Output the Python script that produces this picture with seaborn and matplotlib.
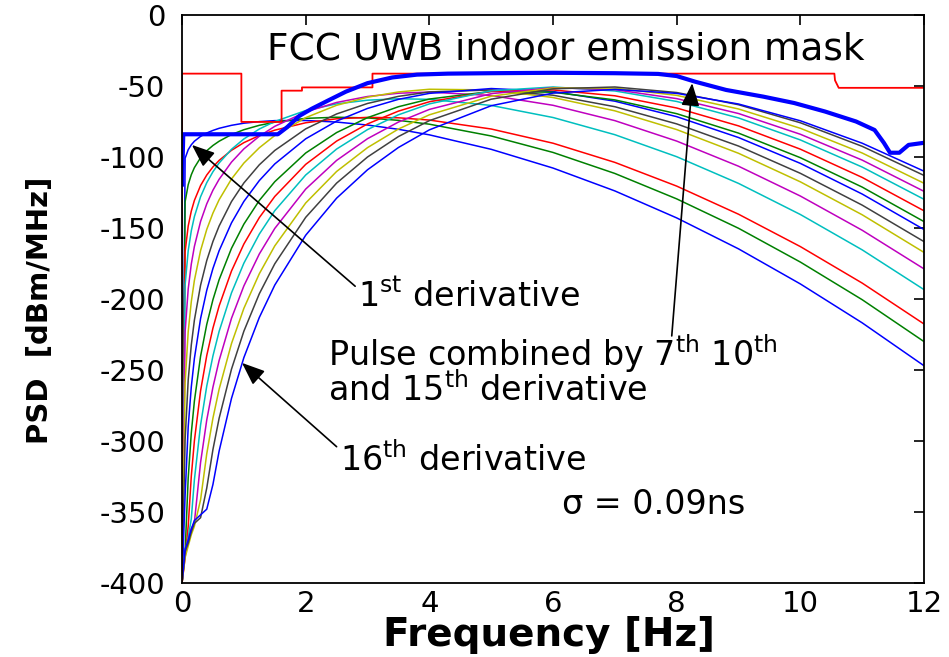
import matplotlib
matplotlib.use("Agg")
import matplotlib.pyplot as plt
import numpy as np
import pandas as pd
import seaborn as sns

# ---------------- data ----------------
FREQ = [0.0, 0.05, 0.1, 0.15, 0.2, 0.3, 0.4, 0.5, 0.6, 0.8, 1.0, 1.25, 1.5,
        2, 2.5, 3, 3.5, 4, 5, 6, 7, 8, 9, 10, 11, 12]

D1 = [-400, -100.9, -94.9, -91.4, -88.9, -85.5, -83.1, -81.3, -79.8, -77.7, -76.2, -75.1, -74.4,
      -74.3, -75.4, -77.5, -80.5, -84.4, -94.6, -107.8, -123.9, -142.9, -164.7, -189.4, -216.8, -247.0]
D2 = [-400, -131.5, -119.5, -112.5, -107.5, -100.5, -95.6, -91.9, -88.9, -84.2, -80.8, -77.7, -75.5,
      -72.8, -72.0, -72.5, -74.2, -76.9, -85.2, -96.8, -111.6, -129.5, -150.2, -174.0, -200.5, -230.0]
D3 = [-400, -166.7, -148.6, -138.1, -130.6, -120.1, -112.7, -107.0, -102.4, -95.3, -89.9, -84.9, -81.1,
      -75.9, -73.1, -72.1, -72.4, -74.0, -80.3, -90.3, -103.8, -120.5, -140.3, -163.1, -188.8, -217.6]
D4 = [-400, -190.1, -166.0, -152.0, -142.0, -128.0, -118.1, -110.4, -104.2, -94.6, -87.3, -80.3, -75.0,
      -67.3, -62.6, -60.0, -59.0, -59.4, -63.7, -72.2, -84.3, -99.8, -118.6, -140.5, -165.4, -193.4]
D5 = [-400, -223.1, -193.0, -175.4, -163.0, -145.4, -133.0, -123.4, -115.7, -103.6, -94.3, -85.4, -78.4,
      -68.3, -61.6, -57.4, -55.1, -54.3, -56.7, -63.6, -74.4, -88.8, -106.5, -127.5, -151.6, -178.8]
D6 = [-400, -259.1, -223.0, -201.9, -186.9, -165.9, -151.0, -139.5, -130.1, -115.5, -104.3, -93.5, -84.9,
      -72.3, -63.6, -57.9, -54.2, -52.3, -52.8, -58.1, -67.5, -80.7, -97.4, -117.5, -140.7, -167.2]
D7 = [-400, -299.1, -257.0, -232.4, -214.9, -190.3, -172.9, -159.5, -148.6, -131.4, -118.3, -105.5, -95.4,
      -80.2, -69.7, -62.3, -57.3, -54.2, -52.8, -56.5, -64.6, -76.7, -92.3, -111.5, -133.9, -159.6]
D8 = [-400, -338.2, -290.0, -261.9, -241.9, -213.8, -193.9, -178.5, -166.0, -146.4, -131.3, -116.6, -104.9,
      -87.2, -74.7, -65.8, -59.4, -55.2, -51.8, -53.9, -60.7, -71.6, -86.3, -104.5, -126.1, -151.1]
D9 = [-400, -378.0, -326.0, -294.4, -271.9, -240.3, -217.9, -200.5, -186.4, -164.3, -147.3, -130.6, -117.4,
      -97.2, -82.8, -72.3, -64.6, -59.2, -53.8, -54.4, -59.8, -69.5, -83.2, -100.5, -121.2, -145.5]
D10 = [-400, -382.0, -360.0, -324.8, -299.9, -264.7, -239.8, -220.5, -204.9, -180.3, -161.3, -142.7, -127.8,
       -105.2, -88.8, -76.7, -67.7, -61.1, -53.8, -52.8, -56.9, -65.5, -78.1, -94.5, -114.4, -137.9]
D11 = [-400, -378.0, -368.0, -354.8, -327.3, -288.7, -261.3, -240.1, -222.8, -195.7, -174.8, -154.3, -137.8,
       -112.7, -94.4, -80.7, -70.3, -62.6, -53.4, -50.7, -53.5, -60.9, -72.5, -88.0, -107.1, -129.8]
D12 = [-400, -380.0, -370.0, -362.0, -357.3, -315.1, -285.2, -262.1, -243.3, -213.6, -190.8, -168.3, -150.3,
       -122.6, -102.4, -87.1, -75.4, -66.5, -55.4, -51.2, -52.6, -58.9, -69.4, -84.0, -102.2, -124.2]
D13 = [-400, -382.0, -374.0, -366.0, -360.0, -341.4, -309.0, -283.9, -263.5, -231.4, -206.6, -182.2, -162.6,
       -132.4, -110.2, -93.4, -80.3, -70.3, -57.2, -51.4, -51.5, -56.6, -66.2, -79.8, -97.2, -118.5]
D14 = [-400, -378.0, -372.0, -364.0, -358.0, -354.0, -333.1, -306.0, -284.0, -249.4, -222.7, -196.3, -175.2,
       -142.5, -118.4, -100.0, -85.6, -74.4, -59.3, -52.0, -50.7, -54.6, -63.2, -75.9, -92.5, -113.0]
D15 = [-400, -376.0, -370.0, -362.0, -356.0, -352.0, -348.0, -330.6, -307.1, -270.0, -241.3, -213.0, -190.2,
       -155.1, -129.0, -109.0, -93.3, -80.9, -63.9, -55.0, -52.4, -55.2, -62.7, -74.5, -90.3, -110.0]
DERIVS = [D1, D2, D3, D4, D5, D6, D7, D8, D9, D10, D11, D12, D13, D14, D15]

MASK_F = [0.0, 0.0, 0.96, 0.96, 1.61, 1.61, 1.94, 1.94, 3.08, 3.08, 10.55, 10.56, 10.62, 12.0]
MASK_DB = [-400, -41.3, -41.3, -75.3, -75.3, -53.3, -53.3, -51.0, -51.0, -41.3, -41.3, -46.0, -51.3, -51.3]

COMB_F = [0.0, 0.02, 1.55, 1.7, 1.9, 2.1, 2.35, 2.65, 3.0, 3.4, 3.8, 4.3, 5.0, 6.0, 7.0, 7.7, 8.0,
          8.3, 8.8, 9.4, 9.9, 10.4, 10.9, 11.2, 11.35, 11.45, 11.6, 11.75, 12.0]
COMB_DB = [-120, -84, -84, -79, -71, -66, -60.5, -54, -48, -44, -42, -41.3, -41, -40.7, -41, -41.5, -43,
           -47, -52.8, -57.5, -62, -68, -75, -81, -90, -97, -97, -91.5, -90]

XTICKS = [0, 2, 4, 6, 8, 10, 12]
YTICKS = [0, -50, -100, -150, -200, -250, -300, -350, -400]

MATLAB = ["#0000ff", "#008000", "#ff0000", "#00bfbf", "#bf00bf", "#bfbf00", "#404040"]

# ---------------- style ----------------
sns.set_theme(style="white")
plt.rcParams["font.family"] = ["DejaVu Sans"]
plt.rcParams["axes.unicode_minus"] = False
plt.rcParams["mathtext.fontset"] = "dejavusans"
plt.rcParams["text.color"] = "black"
plt.rcParams["axes.labelcolor"] = "black"
plt.rcParams["xtick.color"] = "black"
plt.rcParams["ytick.color"] = "black"

rows = []
for k, d in enumerate(DERIVS):
    for f, v in zip(FREQ, d):
        rows.append({"freq": f, "psd": v, "curve": f"d{k+1}"})
df = pd.DataFrame(rows)
palette = {f"d{k+1}": MATLAB[k % 7] for k in range(len(DERIVS))}

fig = plt.figure(figsize=(9.49, 6.57), dpi=100)
ax = fig.add_axes([0.1918, 0.1126, 0.9737 - 0.1918, 0.9772 - 0.1126])

sns.lineplot(data=df, x="freq", y="psd", hue="curve", palette=palette, estimator=None,
             sort=False, legend=False, linewidth=1.1, ax=ax)

mask = pd.DataFrame({"freq": MASK_F, "psd": MASK_DB})
sns.lineplot(data=mask, x="freq", y="psd", color="#ff0000", linewidth=1.3, sort=False,
             estimator=None, ax=ax)
comb = pd.DataFrame({"freq": COMB_F, "psd": COMB_DB})
sns.lineplot(data=comb, x="freq", y="psd", color="#0000ff", linewidth=3.0, sort=False,
             estimator=None, ax=ax)

ax.set_xlim(0, 12)
ax.set_ylim(-400, 0)
ax.set_xticks(XTICKS)
ax.set_yticks(YTICKS)
ax.set_xticklabels([str(t) for t in XTICKS])
ax.set_yticklabels([str(t) for t in YTICKS])
ax.tick_params(direction="in", length=7, width=1.2, top=True, right=True,
               labelsize=21, colors="black")
ax.tick_params(axis="y", pad=12)
ax.tick_params(axis="x", pad=5)
for s in ax.spines.values():
    s.set_color("black")
    s.set_linewidth(1.3)

ax.set_xlabel("Frequency [Hz]", fontsize=28, fontweight="bold")
ax.set_ylabel("PSD  [dBm/MHz]", fontsize=21, fontweight="bold")
ax.xaxis.set_label_coords(0.495, -0.058)
ax.yaxis.set_label_coords(-0.172, 0.48)

ax.text(6.2, -24.5, "FCC UWB indoor emission mask", fontsize=27, ha="center", va="center")
ax.text(2.85, -198.5, r"1$^{\mathrm{st}}$ derivative", fontsize=24, ha="left", va="center")
ax.text(2.36, -250,
        "Pulse combined by 7$^{\\mathrm{th}}$ 10$^{\\mathrm{th}}$\n"
        "and 15$^{\\mathrm{th}}$ derivative",
        fontsize=24, ha="left", va="center", linespacing=0.9)
ax.text(2.56, -313.5, r"16$^{\mathrm{th}}$ derivative", fontsize=24, ha="left", va="center")
ax.text(6.15, -345, "σ = 0.09ns", fontsize=24, ha="left", va="center")

arrow = dict(arrowstyle="-|>,head_length=0.7,head_width=0.28", color="black", lw=1.2,
             mutation_scale=20, shrinkA=0, shrinkB=0)
ax.annotate("", xy=(0.16, -91.5), xytext=(2.8, -191), arrowprops=arrow)
ax.annotate("", xy=(0.97, -245), xytext=(2.5, -304), arrowprops=arrow)
ax.annotate("", xy=(8.25, -48), xytext=(7.92, -226), arrowprops=arrow)

fig.savefig("out.png", dpi=100)
